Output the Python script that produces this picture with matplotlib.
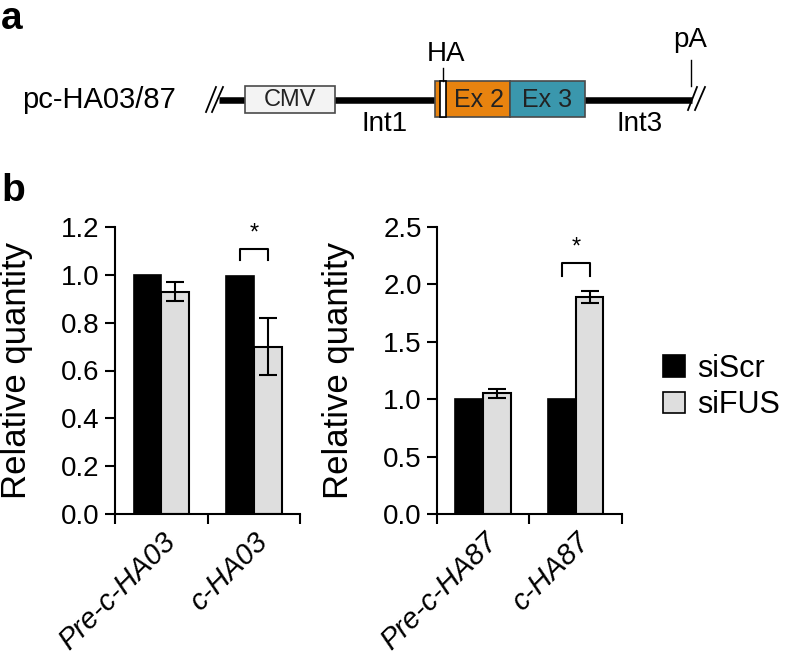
import numpy as np
import matplotlib
matplotlib.use("Agg")
import matplotlib.pyplot as plt
from matplotlib.patches import Rectangle, Patch
from matplotlib.transforms import ScaledTranslation

plt.rcParams['font.family'] = ['Liberation Sans', 'DejaVu Sans']

# ---- data ----
series_names = ["siScr", "siFUS"]

groups_03 = ["Pre-c-HA03", "c-HA03"]
siscr_03 = [1.0, 0.995]
sifus_03 = [0.93, 0.70]
sifus_03_err = [0.04, 0.12]
yticks_03 = [0.0, 0.2, 0.4, 0.6, 0.8, 1.0, 1.2]

groups_87 = ["Pre-c-HA87", "c-HA87"]
siscr_87 = [1.0, 1.0]
sifus_87 = [1.05, 1.89]
sifus_87_err = [0.04, 0.055]
yticks_87 = [0.0, 0.5, 1.0, 1.5, 2.0, 2.5]

# significance bracket: group index, bracket top, leg bottom
sig_03 = (1, 1.11, 1.06)
sig_87 = (1, 2.19, 2.07)

GREY = "#dedede"
ORANGE = "#e8830f"
TEAL = "#3a97ad"

fig = plt.figure(figsize=(7.86, 6.66), dpi=100)

# ---- panel a: construct schematic, drawn in pixel space ----
ax0 = fig.add_axes([0, 0, 1, 1])
ax0.set_xlim(0, 786)
ax0.set_ylim(666, 0)
ax0.axis("off")

line_y = 100
ax0.plot([219, 692], [line_y, line_y], color="black", lw=4.7, solid_capstyle="butt", zorder=1)
for x0, x1, y0, y1 in [(206, 216, 112, 87), (212, 223, 112, 87),
                       (688, 697, 110, 87), (695, 705, 110, 87)]:
    ax0.plot([x0, x1], [y0, y1], color="black", lw=1.3, zorder=2)

# boxes: (label, x0, x1, y0, y1, face)
boxes = [("CMV", 245, 335, 86, 113, "#f3f3f3"),
         ("", 435, 441, 81, 117, ORANGE),
         ("Ex 2", 441, 510, 81, 117, ORANGE),
         ("Ex 3", 510, 585, 81, 117, TEAL)]
for lab, x0, x1, y0, y1, fc in boxes:
    ax0.add_patch(Rectangle((x0, y0), x1 - x0, y1 - y0, facecolor=fc,
                            edgecolor="#4a4a4a", lw=1.2, zorder=3))
    if lab:
        ax0.text((x0 + x1) / 2 + (4 if lab == "Ex 2" else 0), (y0 + y1) / 2 + 1, lab,
                 ha="center", va="center", fontsize=17 if lab == "CMV" else 18,
                 color="#222222", zorder=4)
ax0.add_patch(Rectangle((440, 81), 6, 36, facecolor="white", edgecolor="black",
                        lw=1.2, zorder=4))
ax0.plot([443, 443], [68, 81], color="black", lw=1.0, zorder=4)
ax0.plot([691, 691], [60, 86], color="black", lw=1.0, zorder=4)

ax0.text(22, line_y, "pc-HA03/87", ha="left", va="center", fontsize=21)
ax0.text(446, 54, "HA", ha="center", va="center", fontsize=20)
ax0.text(690, 40, "pA", ha="center", va="center", fontsize=20)
ax0.text(385, 124, "Int1", ha="center", va="center", fontsize=20)
ax0.text(640, 124, "Int3", ha="center", va="center", fontsize=20)

fig.text(1 / 786, 1 - 1 / 666, "a", fontsize=28, fontweight="bold", ha="left", va="top")
fig.text(1 / 786, 1 - 173 / 666, "b", fontsize=28, fontweight="bold", ha="left", va="top")


def bar_panel(ax, groups, scr, fus, fus_err, yticks, sig):
    x = np.arange(len(groups))
    w = 0.3
    ax.bar(x - w / 2, scr, w, color="black", edgecolor="black", lw=1.2, zorder=2)
    ax.bar(x + w / 2, fus, w, color=GREY, edgecolor="black", lw=1.5, zorder=2,
           yerr=fus_err, error_kw=dict(ecolor="black", elinewidth=1.5,
                                       capsize=6.5, capthick=1.5, zorder=3))
    ax.set_xlim(-0.5, len(groups) - 0.5)
    ax.set_ylim(yticks[0], yticks[-1])
    ax.set_yticks(yticks)
    ax.set_yticklabels([f"{t:.1f}" for t in yticks], fontsize=20)
    ax.set_xticks(np.arange(len(groups) + 1) - 0.5)
    ax.set_xticklabels([])
    ax.set_xticks(x, minor=True)
    ax.set_xticklabels(groups, minor=True, rotation=45, ha="right",
                       rotation_mode="anchor", fontsize=21, style="italic")
    off = ScaledTranslation(3 / 100, 0, fig.dpi_scale_trans)
    for lab in ax.get_xticklabels(minor=True):
        lab.set_transform(lab.get_transform() + off)
    ax.tick_params(axis="x", which="minor", length=0, pad=10)
    ax.tick_params(axis="x", which="major", length=7, width=1.5, direction="out")
    ax.tick_params(axis="y", length=7, width=1.5, direction="out", pad=4)
    for s in ["top", "right"]:
        ax.spines[s].set_visible(False)
    for s in ["left", "bottom"]:
        ax.spines[s].set_linewidth(1.5)
    ax.set_facecolor("none")
    ax.set_ylabel("Relative quantity", fontsize=25)
    ax.yaxis.set_label_coords(-0.443, 0.5)

    gi, top, bot = sig
    ax.plot([gi - w / 2, gi - w / 2, gi + w / 2, gi + w / 2], [bot, top, top, bot],
            color="black", lw=1.5, zorder=3)
    ax.annotate("*", (gi, top), xytext=(0, 3), textcoords="offset points",
                ha="center", va="bottom", fontsize=17)


ax1 = fig.add_axes([115 / 786, 152 / 666, 185 / 786, 287 / 666])
bar_panel(ax1, groups_03, siscr_03, sifus_03, sifus_03_err, yticks_03, sig_03)
ax2 = fig.add_axes([437 / 786, 152 / 666, 185 / 786, 287 / 666])
bar_panel(ax2, groups_87, siscr_87, sifus_87, sifus_87_err, yticks_87, sig_87)

handles = [Patch(facecolor="black", edgecolor="black", lw=1.2),
           Patch(facecolor=GREY, edgecolor="black", lw=1.2)]
fig.legend(handles, series_names, loc="upper left",
           bbox_to_anchor=(663 / 786, 1 - 354 / 666), frameon=False, fontsize=22,
           handlelength=0.72, handleheight=0.72, handletextpad=0.4,
           labelspacing=0.2, borderpad=0, borderaxespad=0)

fig.savefig("out.png", dpi=100)
